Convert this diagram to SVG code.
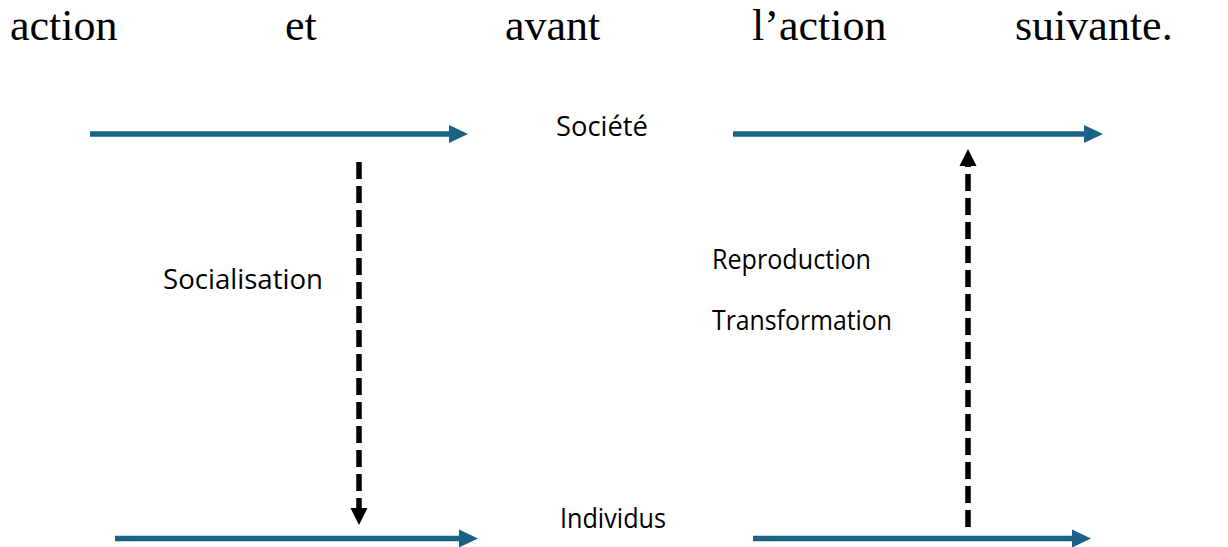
<svg xmlns="http://www.w3.org/2000/svg" width="1228" height="547" viewBox="0 0 1228 547">
  <style>
    .body { font-family: "Liberation Serif", "Times New Roman", serif; font-size: 44px; fill: #000; }
    .label { font-family: "Open Sans", "Liberation Sans", Arial, sans-serif; font-size: 28px; fill: #000; }
    .flow { stroke: #1b6386; stroke-width: 5.5; fill: none; }
    .link { stroke: #000; stroke-width: 5.5; fill: none; stroke-dasharray: 17 7; }
  </style>
  <defs>
    <marker id="head-blue" markerUnits="userSpaceOnUse" markerWidth="20" markerHeight="20" viewBox="0 0 20 20" refX="0" refY="10" orient="auto">
      <polygon points="0,1 19,10 0,19" fill="#1b6386"/>
    </marker>
    <marker id="head-black" markerUnits="userSpaceOnUse" markerWidth="20" markerHeight="20" viewBox="0 0 20 20" refX="0" refY="10" orient="auto">
      <polygon points="0,1.5 17,10 0,18.5" fill="#000"/>
    </marker>
  </defs>

  <!-- running paragraph line -->
  <g id="paragraph" class="body">
    <text x="10" y="40">action</text>
    <text x="285" y="40">et</text>
    <text x="505" y="40">avant</text>
    <text x="752" y="40">l’action</text>
    <text x="1015" y="40">suivante.</text>
  </g>

  <!-- level labels -->
  <g id="societe"><text class="label" x="556" y="136" textLength="92" lengthAdjust="spacingAndGlyphs">Société</text></g>
  <g id="individus"><text class="label" x="560" y="528" textLength="106" lengthAdjust="spacingAndGlyphs">Individus</text></g>
  <g id="socialisation"><text class="label" x="163" y="289" textLength="160" lengthAdjust="spacingAndGlyphs">Socialisation</text></g>
  <g id="reproduction"><text class="label" x="712" y="269" textLength="159" lengthAdjust="spacingAndGlyphs">Reproduction</text></g>
  <g id="transformation"><text class="label" x="712" y="330" textLength="180" lengthAdjust="spacingAndGlyphs">Transformation</text></g>

  <!-- connectors -->
  <g id="connectors">
    <line class="flow" x1="90" y1="134" x2="449" y2="134" marker-end="url(#head-blue)"/>
    <line class="flow" x1="733" y1="134" x2="1084" y2="134" marker-end="url(#head-blue)"/>
    <line class="flow" x1="115" y1="538.5" x2="459" y2="538.5" marker-end="url(#head-blue)"/>
    <line class="flow" x1="753" y1="538.5" x2="1072" y2="538.5" marker-end="url(#head-blue)"/>
    <line class="link" x1="359" y1="162" x2="359" y2="508" marker-end="url(#head-black)"/>
    <line class="link" x1="968" y1="527" x2="968" y2="166" marker-end="url(#head-black)"/>
  </g>
</svg>
